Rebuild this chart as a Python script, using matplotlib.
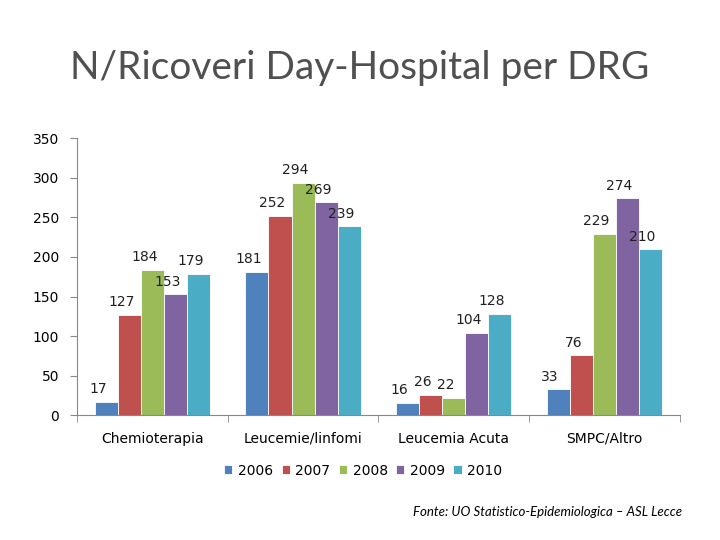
import matplotlib.pyplot as plt
import numpy as np

categories = ['Chemioterapia', 'Leucemie/linfomi', 'Leucemia Acuta', 'SMPC/Altro']
years = ['2006', '2007', '2008', '2009', '2010']
values = {
    '2006': [17, 181, 16, 33],
    '2007': [127, 252, 26, 76],
    '2008': [184, 294, 22, 229],
    '2009': [153, 269, 104, 274],
    '2010': [179, 239, 128, 210],
}
colors = ['#4F81BD', '#C0504D', '#9BBB59', '#8064A2', '#4BACC6']

fig = plt.figure(figsize=(7.2, 5.4), dpi=100)
ax = fig.add_axes((0.107, 0.231, 0.837, 0.513))

x = np.arange(len(categories))
w = 0.153
for i, yr in enumerate(years):
    pos = x + (i - 2) * w
    ax.bar(pos, values[yr], width=w, color=colors[i], edgecolor='white',
           linewidth=0.6, label=yr)
    for px, v in zip(pos, values[yr]):
        ax.text(px - 0.35 * w, v + 7, str(v), ha='center', va='bottom',
                fontsize=10, family='DejaVu Sans Condensed', color='#202020')

ax.set_xlim(-0.5, 3.5)
ax.set_ylim(0, 350)
ax.set_yticks(range(0, 351, 50))
ax.set_xticks(x)
ax.set_xticklabels(categories, family='DejaVu Sans Condensed', fontsize=10)
ax.set_xticks(np.arange(-0.5, 4, 1), minor=True)
ax.tick_params(axis='x', which='major', length=0, pad=12)
ax.tick_params(axis='x', which='minor', length=5, color='#888888')
ax.tick_params(axis='y', length=5, color='#888888', labelsize=10, pad=8)
for lab in ax.get_yticklabels():
    lab.set_family('DejaVu Sans Condensed')
for s in ['top', 'right']:
    ax.spines[s].set_visible(False)
for s in ['left', 'bottom']:
    ax.spines[s].set_color('#888888')

fig.text(0.5, 0.875, 'N/Ricoveri Day-Hospital per DRG', ha='center',
         va='center', fontsize=28, family='Lato', color='#505050')

leg = ax.legend(loc='upper center', bbox_to_anchor=(0.475, -0.13), ncol=5,
                frameon=False, handlelength=0.6, handleheight=0.6,
                handletextpad=0.4, columnspacing=0.6,
                prop={'family': 'DejaVu Sans Condensed', 'size': 10})

fig.text(0.948, 0.052, 'Fonte: UO Statistico-Epidemiologica \u2013 ASL Lecce',
         ha='right', va='center', fontsize=9.5, style='italic',
         family='Lato')

fig.savefig('out.png', dpi=100)
